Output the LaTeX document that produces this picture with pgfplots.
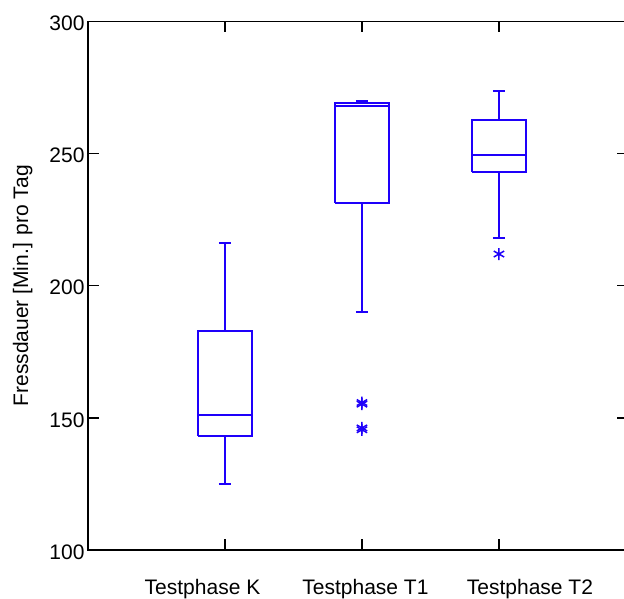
\documentclass[border=0pt]{standalone}
\usepackage{pgfplots}
\pgfplotsset{compat=1.18}
\usepackage{fontspec}
\setmainfont{Liberation Sans}
\definecolor{boxblue}{RGB}{30,0,250}
\begin{document}
\begin{tikzpicture}
\begin{axis}[
  at={(0pt,0pt)}, anchor=south west,
  scale only axis,
  width=540pt, height=528.5pt,
  xmin=0, xmax=3.942,
  ymin=100, ymax=300,
  ytick={100,150,200,250,300},
  xtick={1,2,3},
  xticklabels={{Testphase K\rule{45pt}{0pt}},{\rule{7pt}{0pt}Testphase T1},{\rule{62pt}{0pt}Testphase T2}},
  tick align=inside,
  major tick length=11pt,
  tick style={black, line width=1.3pt},
  axis line style={black, line width=1.5pt},
  /pgf/number format/assume math mode=true,
  tick label style={font=\fontsize{21}{25}\selectfont},
  label style={font=\fontsize{21}{25}\selectfont},
  xticklabel style={anchor=base, yshift=-44.5pt},
  yticklabel style={yshift=-2pt},
  ylabel={Fressdauer [Min.] pro Tag},
  ylabel style={at={(axis description cs:-0.111,0.5)}, anchor=base},
  unbounded coords=jump,
]
% Testphase K
\addplot[boxblue, line width=2pt, mark=none] coordinates {
  (0.8,143) (1.2,143) (1.2,183) (0.8,183) (0.8,143) (nan,nan)
  (0.8,151) (1.2,151) (nan,nan)
  (1,183) (1,216) (nan,nan) (0.955,216) (1.045,216) (nan,nan)
  (1,143) (1,125) (nan,nan) (0.955,125) (1.045,125)};
% Testphase T1
\addplot[boxblue, line width=2pt, mark=none] coordinates {
  (1.8,231.4) (2.2,231.4) (2.2,269) (1.8,269) (1.8,231.4) (nan,nan)
  (1.8,268) (2.2,268) (nan,nan)
  (2,269) (2,270) (nan,nan) (1.955,270) (2.045,270) (nan,nan)
  (2,231.4) (2,190) (nan,nan) (1.955,190) (2.045,190)};
% Testphase T2
\addplot[boxblue, line width=2pt, mark=none] coordinates {
  (2.8,243) (3.2,243) (3.2,262.8) (2.8,262.8) (2.8,243) (nan,nan)
  (2.8,249.4) (3.2,249.4) (nan,nan)
  (3,262.8) (3,273.8) (nan,nan) (2.955,273.8) (3.045,273.8) (nan,nan)
  (3,243) (3,218) (nan,nan) (2.955,218) (3.045,218)};
% outliers
\addplot[boxblue, only marks, mark=asterisk, mark size=6pt,
  mark options={line width=1.5pt}] coordinates {
  (2,155.8) (2,155.2) (2,146.2) (2,145.5) (3,212)};
\end{axis}
\pgfresetboundingbox
\useasboundingbox (-88pt,-49pt) rectangle (536pt,550pt);
\end{tikzpicture}
\end{document}
